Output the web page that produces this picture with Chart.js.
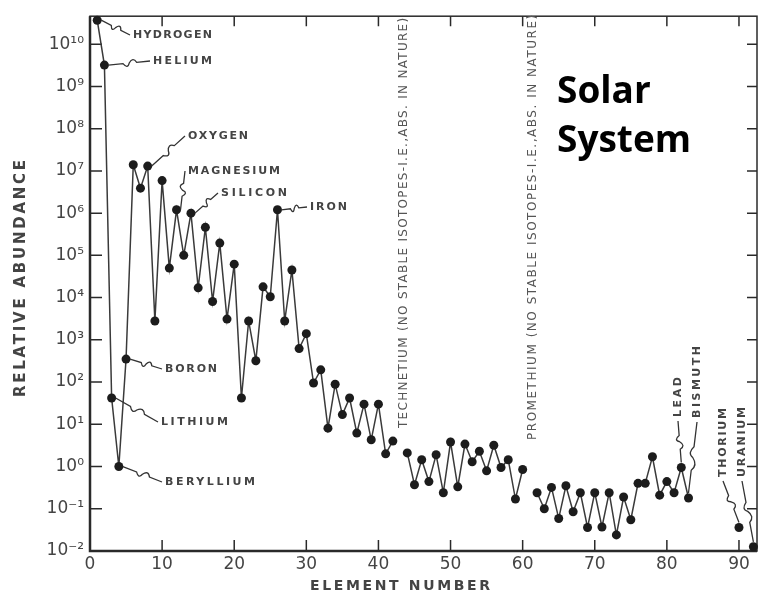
<!DOCTYPE html>
<html><head><meta charset="utf-8">
<script src="https://cdn.jsdelivr.net/npm/chart.js@4/dist/chart.umd.min.js"></script>
<style>html,body{margin:0;padding:0;background:#fff}#wrap{width:763px;height:600px;position:relative}</style>
</head><body><div id="wrap"><canvas id="c" width="763" height="600"></canvas></div>
<script>
// ---- data ----
const elementNumbers = Array.from({length: 92}, (_, i) => i + 1);
const abundances = [
  3.7e10, 3.2e9, 42, 1.0, 350, 1.4e7, 3.9e6, 1.3e7, 2800, 5.9e6,          // 1-10
  5.0e4, 1.2e6, 1.0e5, 1.0e6, 1.7e4, 4.6e5, 8100, 1.95e5, 3100, 6.2e4,     // 11-20
  42, 2800, 320, 1.8e4, 1.05e4, 1.2e6, 2800, 4.5e4, 620, 1400,            // 21-30
  95, 195, 8.1, 89, 17, 42, 6.2, 30, 4.3, 30,                             // 31-40
  2.0, 4.0, null, 2.1, 0.37, 1.45, 0.44, 1.9, 0.24, 3.8,                  // 41-50
  0.33, 3.4, 1.3, 2.3, 0.79, 3.2, 0.95, 1.45, 0.17, 0.85,                 // 51-60
  null, 0.24, 0.10, 0.32, 0.059, 0.35, 0.085, 0.24, 0.036, 0.24,          // 61-70
  0.037, 0.24, 0.024, 0.19, 0.055, 0.40, 0.40, 1.7, 0.21, 0.44,           // 71-80
  0.24, 0.95, 0.18, null, null, null, null, null, null, 0.036,            // 81-90
  null, 0.0126                                                            // 91-92
];
const xTickValues = [0, 10, 20, 30, 40, 50, 60, 70, 80, 90];
const yTickExponents = [-2, -1, 0, 1, 2, 3, 4, 5, 6, 7, 8, 9, 10];
const pointLabels = [
  {z: 1, text: 'HYDROGEN'}, {z: 2, text: 'HELIUM'}, {z: 8, text: 'OXYGEN'},
  {z: 12, text: 'MAGNESIUM'}, {z: 14, text: 'SILICON'}, {z: 26, text: 'IRON'},
  {z: 5, text: 'BORON'}, {z: 3, text: 'LITHIUM'}, {z: 4, text: 'BERYLLIUM'},
  {z: 82, text: 'LEAD'}, {z: 83, text: 'BISMUTH'}, {z: 90, text: 'THORIUM'}, {z: 92, text: 'URANIUM'}
];
const gapNotes = [
  {z: 43, text: 'TECHNETIUM (NO STABLE ISOTOPES-I.E.,ABS. IN NATURE)'},
  {z: 61, text: 'PROMETHIUM (NO STABLE ISOTOPES-I.E.,ABS. IN NATURE)'}
];
const xTitle = 'ELEMENT NUMBER';
const yTitle = 'RELATIVE ABUNDANCE';
const headline = ['Solar', 'System'];

// ---- styling / layout (not data) ----
const INK = '#2a2a2a';
const LABEL_INK = '#444';
const LBL_FONT = 'DejaVu Sans';
const labelLayout = {
  'HYDROGEN':  {h: true, x: 133, y: 35, w: 79},
  'HELIUM':    {h: true, x: 153, y: 61, w: 59},
  'OXYGEN':    {h: true, x: 188, y: 136, w: 60},
  'MAGNESIUM': {h: true, x: 188, y: 171, w: 92},
  'SILICON':   {h: true, x: 221, y: 193, w: 66},
  'IRON':      {h: true, x: 310, y: 207, w: 37},
  'BORON':     {h: true, x: 165, y: 369, w: 52},
  'LITHIUM':   {h: true, x: 161, y: 422, w: 67},
  'BERYLLIUM': {h: true, x: 165, y: 482, w: 90},
  'LEAD':      {h: false, x: 678, y: 417, w: 40},
  'BISMUTH':   {h: false, x: 697, y: 418, w: 72},
  'THORIUM':   {h: false, x: 723, y: 477, w: 69},
  'URANIUM':   {h: false, x: 742, y: 477, w: 70}
};
const noteLayout = {43: {x: 404, bottom: 428, len: 410}, 61: {x: 533, bottom: 440, len: 425}};

function sup(n) {
  const m = {'0':'⁰','1':'¹','2':'²','3':'³','4':'⁴','5':'⁵','6':'⁶','7':'⁷','8':'⁸','9':'⁹','-':'⁻'};
  return String(n).split('').map(c => m[c]).join('');
}

function fitText(ctx, text, x, y, width) {
  ctx.letterSpacing = '0px';
  const natural = ctx.measureText(text).width;
  const ls = (width - natural) / Math.max(1, text.length - 1);
  ctx.letterSpacing = ls.toFixed(2) + 'px';
  ctx.fillText(text, x, y);
  ctx.letterSpacing = '0px';
}

function squiggle(ctx, a, b) {
  const dx = b[0] - a[0], dy = b[1] - a[1], L = Math.hypot(dx, dy) || 1;
  const px = -dy / L, py = dx / L;
  const pt = (t, o) => [a[0] + dx * t + px * o, a[1] + dy * t + py * o];
  ctx.beginPath();
  ctx.moveTo(a[0], a[1]);
  const p1 = pt(0.35, 0), c1 = pt(0.45, 6), p2 = pt(0.5, 0), c2 = pt(0.6, -6), p3 = pt(0.68, 0);
  ctx.lineTo(p1[0], p1[1]);
  ctx.quadraticCurveTo(c1[0], c1[1], p2[0], p2[1]);
  ctx.quadraticCurveTo(c2[0], c2[1], p3[0], p3[1]);
  ctx.lineTo(b[0], b[1]);
  ctx.stroke();
}

const framePlugin = {
  id: 'frame',
  beforeDatasetsDraw(chart) {
    const {ctx, chartArea: a, scales: {x, y}} = chart;
    ctx.save();
    ctx.strokeStyle = INK;
    ctx.lineWidth = 1.5;
    ctx.strokeRect(a.left, a.top, a.right - a.left, a.bottom - a.top);
    ctx.lineWidth = 2.5;
    ctx.beginPath();
    ctx.moveTo(a.left, a.top); ctx.lineTo(a.left, a.bottom); ctx.lineTo(a.right, a.bottom);
    ctx.stroke();
    ctx.lineWidth = 1.5;
    ctx.beginPath();
    yTickExponents.forEach(e => {
      const py = y.getPixelForValue(Math.pow(10, e));
      ctx.moveTo(a.left, py); ctx.lineTo(a.left + 12, py);
      ctx.moveTo(a.right, py); ctx.lineTo(a.right - 10, py);
    });
    xTickValues.forEach(v => {
      const px = x.getPixelForValue(v);
      ctx.moveTo(px, a.bottom); ctx.lineTo(px, a.bottom - 11);
      ctx.moveTo(px, a.top); ctx.lineTo(px, a.top + 10);
    });
    ctx.stroke();
    ctx.restore();
  },
  afterDatasetsDraw(chart) {
    const {ctx, chartArea: a, scales: {x, y}} = chart;
    ctx.save();
    ctx.fillStyle = LABEL_INK;
    ctx.textBaseline = 'middle';
    ctx.textAlign = 'left';
    ctx.font = 'bold 14px ' + LBL_FONT;
    fitText(ctx, xTitle, 310, 586, 180);
    ctx.save();
    ctx.translate(21, 397);
    ctx.rotate(-Math.PI / 2);
    ctx.font = 'bold 15px ' + LBL_FONT;
    fitText(ctx, yTitle, 0, 0, 237);
    ctx.restore();

    ctx.font = 'bold 11px ' + LBL_FONT;
    ctx.strokeStyle = '#333';
    ctx.lineWidth = 1.3;
    pointLabels.forEach(l => {
      const L = labelLayout[l.text];
      const px = x.getPixelForValue(l.z), py = y.getPixelForValue(abundances[l.z - 1]);
      if (L.h) {
        fitText(ctx, l.text, L.x, L.y, L.w);
        squiggle(ctx, [px + 4, py], [L.x - 3, L.y]);
      } else {
        ctx.save();
        ctx.translate(L.x, L.y);
        ctx.rotate(-Math.PI / 2);
        fitText(ctx, l.text, 0, 0, L.w);
        ctx.restore();
        squiggle(ctx, [L.x, L.y + 4], [px, py - 5]);
      }
    });

    ctx.fillStyle = '#555';
    ctx.font = '12px ' + LBL_FONT;
    gapNotes.forEach(n => {
      const N = noteLayout[n.z];
      ctx.save();
      ctx.translate(N.x, N.bottom);
      ctx.rotate(-Math.PI / 2);
      fitText(ctx, n.text, 0, 0, N.len);
      ctx.restore();
    });

    ctx.fillStyle = '#000';
    ctx.textBaseline = 'alphabetic';
    ctx.font = 'bold 37px "Open Sans"';
    ctx.fillText(headline[0], 557, 103);
    ctx.fillText(headline[1], 557, 152);
    ctx.restore();
  }
};

new Chart(document.getElementById('c'), {
  type: 'line',
  data: {
    datasets: [{
      data: elementNumbers.map((z, i) => ({x: z, y: abundances[i]})),
      borderColor: '#3a3a3a',
      borderWidth: 1.5,
      pointRadius: 4.5,
      pointBackgroundColor: '#1c1c1c',
      pointBorderWidth: 0,
      spanGaps: false,
      tension: 0,
      clip: false
    }]
  },
  options: {
    responsive: false,
    animation: false,
    devicePixelRatio: 1,
    layout: {padding: {top: 13, right: 6, left: 0, bottom: 0}},
    plugins: {legend: {display: false}, tooltip: {enabled: false}, title: {display: false}},
    scales: {
      x: {
        type: 'linear', min: 0, max: 92.5,
        afterBuildTicks(s) { s.ticks = xTickValues.map(v => ({value: v})); },
        afterFit(s) { s.height = 49; },
        grid: {display: false, drawTicks: false},
        border: {display: false},
        ticks: {font: {family: LBL_FONT, size: 17}, color: LABEL_INK, padding: 3, maxRotation: 0, autoSkip: false}
      },
      y: {
        type: 'logarithmic', min: 0.01, max: 4.6e10,
        afterBuildTicks(s) { s.ticks = yTickExponents.map(e => ({value: Math.pow(10, e)})); },
        afterFit(s) { s.width = 90; },
        grid: {display: false, drawTicks: false},
        border: {display: false},
        ticks: {
          font: {family: LBL_FONT, size: 17}, color: LABEL_INK, padding: 6, autoSkip: false,
          callback: v => '10' + sup(Math.round(Math.log10(v)))
        }
      }
    }
  },
  plugins: [framePlugin]
});
</script>
</body></html>
